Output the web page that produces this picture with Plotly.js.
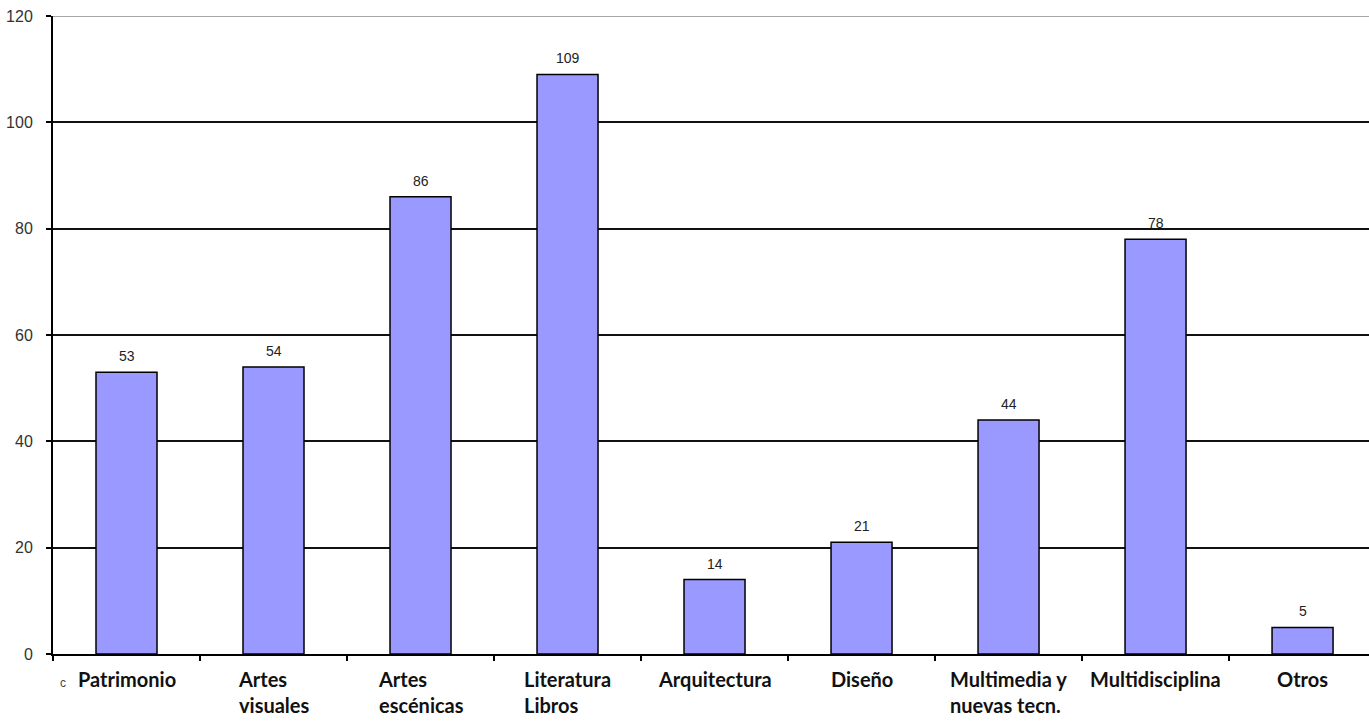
<!DOCTYPE html>
<html>
<head>
<meta charset="utf-8">
<script src="https://cdn.plot.ly/plotly-3.0.1.min.js"></script>
<style>html,body{margin:0;padding:0;background:#fff;}#chart{width:1369px;height:722px;}</style>
</head>
<body>
<div id="chart"></div>
<script>
var categories = ["Patrimonio", "Artes visuales", "Artes escénicas", "Literatura Libros", "Arquitectura", "Diseño", "Multimedia y nuevas tecn.", "Multidisciplina", "Otros"];
var labelLines = ["Patrimonio", "Artes<br>visuales", "Artes<br>escénicas", "Literatura<br>Libros", "Arquitectura", "Diseño", "Multimedia y<br>nuevas tecn.", "Multidisciplina", "Otros"];
var values = [53, 54, 86, 109, 14, 21, 44, 78, 5];
var yTicks = [0, 20, 40, 60, 80, 100, 120];

var trace = {
  type: "bar",
  x: categories,
  y: values,
  width: 0.415,
  marker: {color: "#9999FF", line: {color: "#000000", width: 1.5}},
  hoverinfo: "x+y"
};

var annotations = [];
categories.forEach(function (c, i) {
  annotations.push({
    x: c, y: values[i], xref: "x", yref: "y",
    text: String(values[i]), showarrow: false,
    xanchor: "center", yanchor: "middle", yshift: 16,
    font: {family: "Arial, Liberation Sans, sans-serif", size: 14, color: "#222222"}
  });
  annotations.push({
    x: c, y: 0, xref: "x", yref: "paper",
    text: labelLines[i], showarrow: false,
    xanchor: "center", yanchor: "top", yshift: -12, align: "left", borderpad: 0,
    font: {family: "Lato, sans-serif", size: 20, color: "#111111", weight: "bold"}
  });
});
annotations.push({
  x: 0, y: 0, xref: "paper", yref: "paper", text: "c", showarrow: false,
  xanchor: "left", yanchor: "top", xshift: 5, yshift: -20,
  font: {family: "Arial, sans-serif", size: 12, color: "#444"}
});

var layout = {
  width: 1369, height: 722,
  margin: {l: 53, r: 0, t: 16, b: 68},
  paper_bgcolor: "#ffffff", plot_bgcolor: "#ffffff",
  showlegend: false,
  xaxis: {
    type: "category",
    range: [-0.5, 8.452],
    showticklabels: false,
    ticks: "outside", tickson: "boundaries", ticklen: 5, tickwidth: 2, tickcolor: "#000",
    showline: true, linecolor: "#000", linewidth: 2,
    showgrid: false, zeroline: false, fixedrange: true
  },
  yaxis: {
    range: [0, 120],
    tickvals: yTicks,
    ticks: "outside", ticklen: 5, tickwidth: 2, tickcolor: "#000",
    ticklabelstandoff: 10,
    tickfont: {family: "Arial, Liberation Sans, sans-serif", size: 16, color: "#333333"},
    showline: true, linecolor: "#000", linewidth: 2,
    showgrid: true, gridcolor: "#111111", gridwidth: 2,
    zeroline: false, fixedrange: true
  },
  shapes: [{
    type: "line", xref: "paper", yref: "y", x0: 0, x1: 1, y0: 120, y1: 120,
    line: {color: "#a6a6a6", width: 2}, layer: "above"
  }],
  annotations: annotations
};

Plotly.newPlot("chart", [trace], layout, {displayModeBar: false, staticPlot: true});
</script>
</body>
</html>
